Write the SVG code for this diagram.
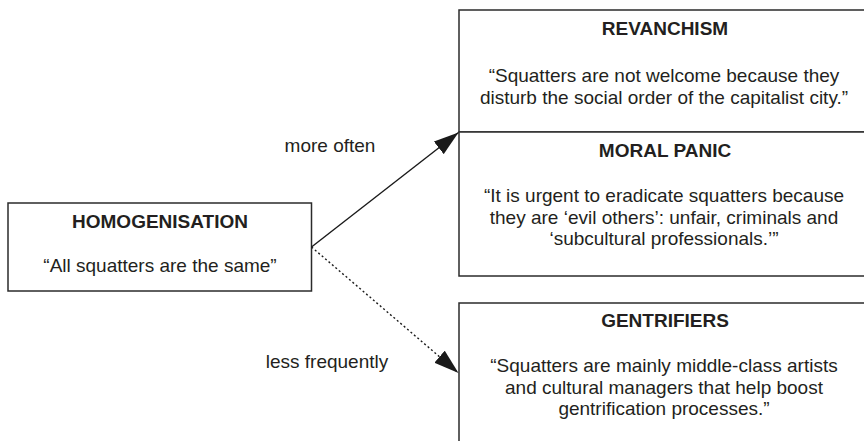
<svg xmlns="http://www.w3.org/2000/svg" width="864" height="441" viewBox="0 0 864 441">
  <style>
    .box { fill: #ffffff; stroke: #2b2b2b; stroke-width: 1.5; }
    .title { font-family: "Liberation Sans", Arial, sans-serif; font-size: 19px; font-weight: bold; fill: #231f20; text-anchor: middle; }
    .body { font-family: "Liberation Sans", Arial, sans-serif; font-size: 19px; fill: #231f20; text-anchor: middle; }
    .label { font-family: "Liberation Sans", Arial, sans-serif; font-size: 19px; fill: #231f20; text-anchor: middle; }
    .conn { fill: none; stroke: #1a1a1a; stroke-width: 1.4; }
    .dotted { stroke-dasharray: 2 2.5; }
  </style>
  <defs>
    <marker id="arrow" markerUnits="userSpaceOnUse" markerWidth="26" markerHeight="16" refX="25" refY="8" orient="auto">
      <path d="M0,0 L25,8 L0,16 Z" fill="#1a1a1a"/>
    </marker>
  </defs>
  <rect width="864" height="441" fill="#ffffff"/>

  <g id="homogenisation">
    <rect class="box" x="8" y="203" width="303.5" height="88"/>
    <text class="title" x="160" y="228">HOMOGENISATION</text>
    <text class="body" x="160" y="272">“All squatters are the same”</text>
  </g>

  <g id="revanchism">
    <rect class="box" x="459" y="10" width="412" height="122"/>
    <text class="title" x="665" y="35">REVANCHISM</text>
    <text class="body" x="664" y="82">“Squatters are not welcome because they</text>
    <text class="body" x="664" y="103.5">disturb the social order of the capitalist city.”</text>
  </g>

  <g id="moral-panic">
    <rect class="box" x="459" y="132" width="412" height="144"/>
    <text class="title" x="665" y="157">MORAL PANIC</text>
    <text class="body" x="664" y="202">“It is urgent to eradicate squatters because</text>
    <text class="body" x="664" y="223.5">they are ‘evil others’: unfair, criminals and</text>
    <text class="body" x="664" y="245">‘subcultural professionals.’”</text>
  </g>

  <g id="gentrifiers">
    <rect class="box" x="459" y="303" width="412" height="150"/>
    <text class="title" x="665" y="327">GENTRIFIERS</text>
    <text class="body" x="664" y="372">“Squatters are mainly middle-class artists</text>
    <text class="body" x="664" y="393.5">and cultural managers that help boost</text>
    <text class="body" x="664" y="415">gentrification processes.”</text>
  </g>

  <g id="connectors">
    <line class="conn" x1="311.5" y1="247" x2="458.5" y2="132.5" marker-end="url(#arrow)"/>
    <line class="conn dotted" x1="311.5" y1="247" x2="458.5" y2="373" marker-end="url(#arrow)"/>
    <text class="label" x="330" y="151.5">more often</text>
    <text class="label" x="327" y="368">less frequently</text>
  </g>
</svg>
